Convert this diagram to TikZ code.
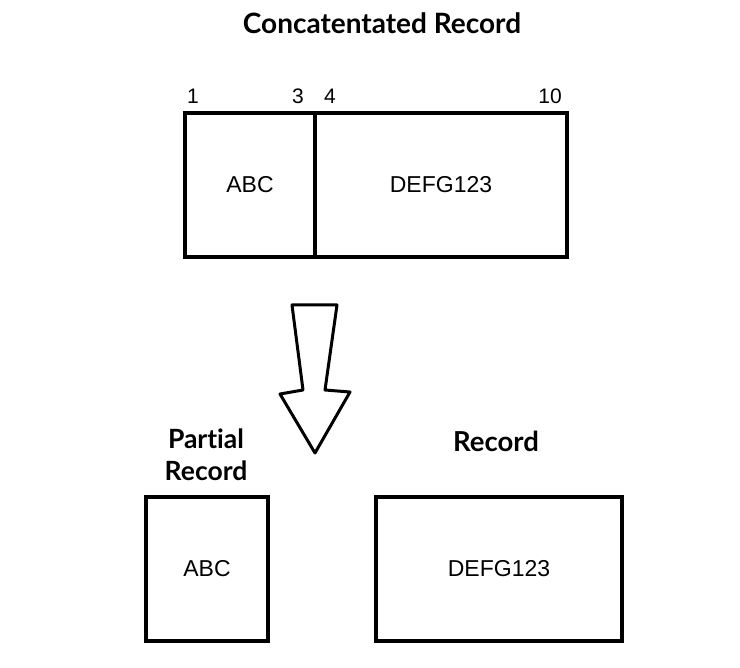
\documentclass[tikz,border=0pt]{standalone}
\usepackage{fontspec}
\setmainfont{Liberation Sans}
\newfontfamily\headfont[Ligatures=NoCommon]{Lato}
\usetikzlibrary{positioning}

\begin{document}
\begin{tikzpicture}[x=1pt, y=-1pt, font=\fontsize{23}{26}\selectfont]
\tikzset{
  cell/.style={draw, line width=3.8pt, minimum height=144pt, inner sep=0pt},
  head/.style={font=\headfont\bfseries\fontsize{27.5}{32}\selectfont, align=center},
  num/.style={font=\fontsize{21}{23}\selectfont, inner sep=0pt}
}
\useasboundingbox (0,0) rectangle (740,668);
% concatenated record
\node[head, font=\headfont\bfseries\fontsize{28}{30}\selectfont] (title) at (382,23) {Concatentated Record};
\node[cell, minimum width=130pt] (cellA) at (250,185) {ABC};
\node[cell, minimum width=252pt] (cellD) at (441,185) {DEFG123};
\foreach \x/\n in {193/1, 298/3, 330/4, 550/10}{
  \node[num] (n\n) at (\x,96) {\n};
}
% split arrow
\draw[line width=3pt, line join=round]
  (292,305) -- (337,305) -- (325,390) -- (350,392) -- (315,453) -- (280,394) -- (303,390) -- cycle;
% results
\node[head, font=\headfont\bfseries\fontsize{26.5}{32}\selectfont] (partlabel) at (206,455) {Partial\\Record};
\node[head] (reclabel) at (496,441) {Record};
\node[cell, minimum width=122pt] (part) at (207,569) {ABC};
\node[cell, minimum width=246pt] (rec) at (499,569) {DEFG123};
\end{tikzpicture}
\end{document}
